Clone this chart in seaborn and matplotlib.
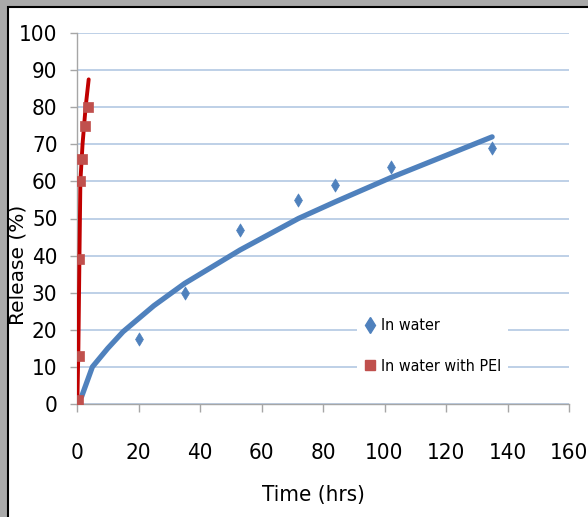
import matplotlib
matplotlib.use("Agg")
import matplotlib.pyplot as plt
from matplotlib import font_manager
from matplotlib.patches import Rectangle
from matplotlib.lines import Line2D
import seaborn as sns
import pandas as pd

# ---- data ----
water_time = [20, 35, 53, 72, 84, 102, 135]
water_release = [17.5, 30, 47, 55, 59, 64, 69]

pei_time = [0.2, 0.5, 0.75, 1.0, 1.7, 2.6, 3.7]
pei_release = [1, 13, 39, 60, 66, 75, 80]

water_fit_time = [1.5, 5, 10, 15, 20, 25, 35, 40, 53, 72, 84, 102, 120, 135]
water_fit_release = [2, 10, 15, 19.5, 23, 26.5, 32.5, 35, 41.5, 50, 54.5, 61, 67, 72]

pei_fit_time = [0.1, 0.45, 0.8, 1.1, 1.8, 2.8, 3.8]
pei_fit_release = [0, 15, 40, 60, 70, 80, 87.5]

x_ticks = [0, 20, 40, 60, 80, 100, 120, 140, 160]
y_ticks = [0, 10, 20, 30, 40, 50, 60, 70, 80, 90, 100]
labels = ["In water", "In water with PEI"]

sns.set_style("white")

# choose a narrow font (Calibri-like) if available
fonts = font_manager.fontManager.ttflist
names = {f.name for f in fonts}
narrow_stretch = "normal"
if "Liberation Sans Narrow" in names:
    narrow_family = ["Liberation Sans Narrow", "DejaVu Sans"]
elif any(f.name == "DejaVu Sans" and "ondensed" in f.fname for f in fonts):
    narrow_family = ["DejaVu Sans"]
    narrow_stretch = "condensed"
else:
    narrow_family = ["Liberation Sans", "DejaVu Sans"]
plt.rcParams['font.family'] = narrow_family
plt.rcParams['font.stretch'] = narrow_stretch
plt.rcParams['text.color'] = 'black'
plt.rcParams['axes.labelcolor'] = 'black'
plt.rcParams['xtick.labelcolor'] = 'black'
plt.rcParams['ytick.labelcolor'] = 'black'

W, H = 588, 517
fig = plt.figure(figsize=(W / 100, H / 100), dpi=100, facecolor="#a9a9a9")
fig.patches.append(Rectangle((8 / W, -0.01), 1.0, (H - 7) / H + 0.01, transform=fig.transFigure,
                             facecolor="white", edgecolor="black", linewidth=1.5, zorder=-5))

ax = fig.add_axes([77 / W, 1 - 404 / H, (569 - 77) / W, (404 - 33) / H])
ax.set_facecolor("none")

df_w = pd.DataFrame({"t": water_time, "r": water_release})
df_p = pd.DataFrame({"t": pei_time, "r": pei_release})
df_wf = pd.DataFrame({"t": water_fit_time, "r": water_fit_release})
df_pf = pd.DataFrame({"t": pei_fit_time, "r": pei_fit_release})

blue = "#4f81bd"
red_m = "#c0504d"
red_l = "#c00000"

sns.lineplot(data=df_wf, x="t", y="r", ax=ax, sort=False, color=blue, linewidth=3.8,
             solid_capstyle="round", legend=False, zorder=3)
sns.lineplot(data=df_pf, x="t", y="r", ax=ax, sort=False, color=red_l, linewidth=2.8,
             solid_capstyle="round", legend=False, zorder=3)
sns.scatterplot(data=df_w, x="t", y="r", ax=ax, marker="d", s=45, color=blue,
                edgecolor=blue, linewidth=0.5, legend=False, zorder=4)
sns.scatterplot(data=df_p, x="t", y="r", ax=ax, marker="s", s=48, color=red_m,
                edgecolor=red_m, linewidth=0.5, legend=False, zorder=4)

ax.set_xlim(0, 160)
ax.set_ylim(0, 100)
ax.set_xticks(x_ticks)
ax.set_yticks(y_ticks)
ax.set_xticklabels([str(v) for v in x_ticks])
ax.set_yticklabels([str(v) for v in y_ticks])

ax.yaxis.grid(True, color="#b9cde5", linewidth=1.3)
ax.xaxis.grid(False)
ax.set_axisbelow(True)
for s in ["top", "right"]:
    ax.spines[s].set_visible(False)
for s in ["left", "bottom"]:
    ax.spines[s].set_color("#a6a6a6")
    ax.spines[s].set_linewidth(1.0)

ax.tick_params(axis="y", direction="out", length=5, width=1, color="#a6a6a6",
               labelsize=16, pad=9, left=True, labelcolor="black")
ax.tick_params(axis="x", direction="out", length=6, width=1, color="#a6a6a6",
               labelsize=16, pad=22, bottom=True, labelcolor="black")

ax.set_xlabel("Time (hrs)", fontsize=16, color="black")
ax.xaxis.set_label_coords((313 - 77) / 492, (404 - 485) / 371)
ax.set_ylabel("Release (%)", fontsize=14.5, family=["DejaVu Sans"],
              stretch="normal", va="center", color="black")
ax.yaxis.set_label_coords((18 - 77) / 492, (404 - 265) / 371)

handles = [
    Line2D([], [], linestyle="none", marker="d", markersize=8, color=blue, label=labels[0]),
    Line2D([], [], linestyle="none", marker="s", markersize=7, color=red_m, label=labels[1]),
]
leg = ax.legend(handles=handles, loc="upper left",
                bbox_to_anchor=(349 / W, 1 - 304 / H), bbox_transform=fig.transFigure,
                frameon=True, facecolor="white", edgecolor="none", framealpha=1,
                fontsize=11.5, handlelength=0.8, handletextpad=0.3, labelspacing=1.6,
                borderpad=0.4)
for t in leg.get_texts():
    t.set_color("black")

fig.savefig("out.png", dpi=100, facecolor=fig.get_facecolor())
